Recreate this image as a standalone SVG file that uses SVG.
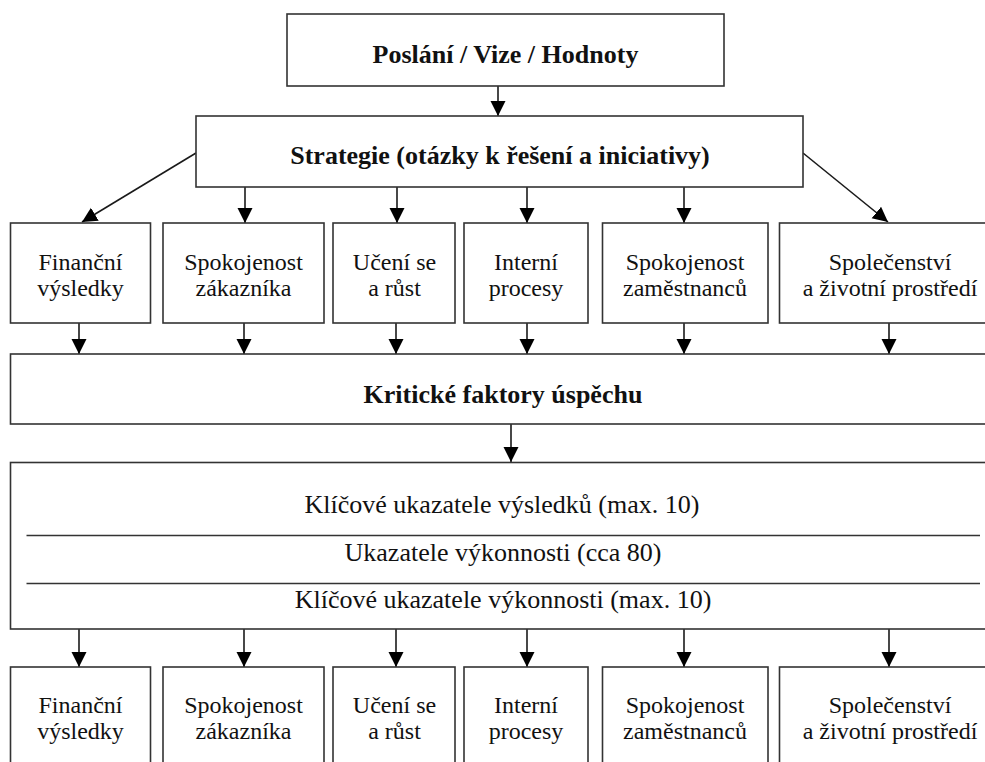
<svg xmlns="http://www.w3.org/2000/svg" width="985" height="762" viewBox="0 0 985 762">
  <style>
    .box { fill: #ffffff; stroke: #333333; stroke-width: 1.6; }
    .sep { stroke: #333333; stroke-width: 1.6; }
    .conn { stroke: #1a1a1a; stroke-width: 1.6; fill: none; marker-end: url(#arrow); }
    .t { font-family: "Liberation Serif", "Times New Roman", serif; fill: #111111; text-anchor: middle; }
    .b { font-size: 26px; font-weight: bold; }
    .m { font-size: 26px; }
    .s { font-size: 24px; }
  </style>
  <defs>
    <marker id="arrow" markerUnits="userSpaceOnUse" markerWidth="16" markerHeight="16" refX="15" refY="7.5" orient="auto">
      <path d="M0,0 L15,7.5 L0,15 Z" fill="#000000"/>
    </marker>
  </defs>

  <rect width="985" height="762" fill="#ffffff"/>

  <!-- connectors -->
  <g id="connectors">
    <line class="conn" x1="498" y1="86" x2="498" y2="116"/>
    <line class="conn" x1="196" y1="153" x2="82" y2="222"/>
    <line class="conn" x1="803" y1="153" x2="888" y2="222"/>
    <line class="conn" x1="245" y1="187" x2="245" y2="223"/>
    <line class="conn" x1="397" y1="187" x2="397" y2="223"/>
    <line class="conn" x1="527" y1="187" x2="527" y2="223"/>
    <line class="conn" x1="684" y1="187" x2="684" y2="223"/>

    <line class="conn" x1="79" y1="323" x2="79" y2="354"/>
    <line class="conn" x1="244" y1="323" x2="244" y2="354"/>
    <line class="conn" x1="396" y1="323" x2="396" y2="354"/>
    <line class="conn" x1="527" y1="323" x2="527" y2="354"/>
    <line class="conn" x1="684" y1="323" x2="684" y2="354"/>
    <line class="conn" x1="889" y1="323" x2="889" y2="354"/>

    <line class="conn" x1="511" y1="424" x2="511" y2="462"/>

    <line class="conn" x1="79" y1="629" x2="79" y2="667"/>
    <line class="conn" x1="244" y1="629" x2="244" y2="667"/>
    <line class="conn" x1="396" y1="629" x2="396" y2="667"/>
    <line class="conn" x1="527" y1="629" x2="527" y2="667"/>
    <line class="conn" x1="684" y1="629" x2="684" y2="667"/>
    <line class="conn" x1="889" y1="629" x2="889" y2="667"/>
  </g>

  <!-- mission / vision / values -->
  <g id="mission">
    <rect class="box" x="287" y="14" width="437" height="72"/>
    <text class="t b" x="505.5" y="63">Poslání / Vize / Hodnoty</text>
  </g>

  <!-- strategy -->
  <g id="strategy">
    <rect class="box" x="196" y="116" width="607" height="71"/>
    <text class="t b" x="500" y="164">Strategie (otázky k řešení a iniciativy)</text>
  </g>

  <!-- perspectives, upper row -->
  <g id="p1-financial">
    <rect class="box" x="10.5" y="223" width="140" height="100"/>
    <text class="t s" x="80.5" y="270">Finanční</text>
    <text class="t s" x="80.5" y="296">výsledky</text>
  </g>
  <g id="p1-customer">
    <rect class="box" x="163" y="223" width="161" height="100"/>
    <text class="t s" x="243.5" y="270">Spokojenost</text>
    <text class="t s" x="243.5" y="296">zákazníka</text>
  </g>
  <g id="p1-learning">
    <rect class="box" x="333" y="223" width="122" height="100"/>
    <text class="t s" x="394.5" y="270">Učení se</text>
    <text class="t s" x="394.5" y="296">a růst</text>
  </g>
  <g id="p1-process">
    <rect class="box" x="464" y="223" width="124" height="100"/>
    <text class="t s" x="526" y="270">Interní</text>
    <text class="t s" x="526" y="296">procesy</text>
  </g>
  <g id="p1-employees">
    <rect class="box" x="602.5" y="223" width="165.5" height="100"/>
    <text class="t s" x="685" y="270">Spokojenost</text>
    <text class="t s" x="685" y="296">zaměstnanců</text>
  </g>
  <g id="p1-society">
    <rect class="box" x="779.5" y="223" width="221" height="100"/>
    <text class="t s" x="890" y="270">Společenství</text>
    <text class="t s" x="890" y="296">a životní prostředí</text>
  </g>

  <!-- critical success factors -->
  <g id="csf">
    <rect class="box" x="10.5" y="354" width="986" height="70"/>
    <text class="t b" x="503" y="403">Kritické faktory úspěchu</text>
  </g>

  <!-- indicators -->
  <g id="indicators">
    <rect class="box" x="10.5" y="462.5" width="986" height="166.5"/>
    <line class="sep" x1="26.5" y1="535.5" x2="980" y2="535.5"/>
    <line class="sep" x1="26.5" y1="583.5" x2="980" y2="583.5"/>
    <text class="t m" x="502" y="513">Klíčové ukazatele výsledků (max. 10)</text>
    <text class="t m" x="503" y="561">Ukazatele výkonnosti (cca 80)</text>
    <text class="t m" x="503" y="608">Klíčové ukazatele výkonnosti (max. 10)</text>
  </g>

  <!-- perspectives, lower row -->
  <g id="p2-financial">
    <rect class="box" x="10.5" y="667" width="140" height="100"/>
    <text class="t s" x="80.5" y="713">Finanční</text>
    <text class="t s" x="80.5" y="739">výsledky</text>
  </g>
  <g id="p2-customer">
    <rect class="box" x="163" y="667" width="161" height="100"/>
    <text class="t s" x="243.5" y="713">Spokojenost</text>
    <text class="t s" x="243.5" y="739">zákazníka</text>
  </g>
  <g id="p2-learning">
    <rect class="box" x="333" y="667" width="122" height="100"/>
    <text class="t s" x="394.5" y="713">Učení se</text>
    <text class="t s" x="394.5" y="739">a růst</text>
  </g>
  <g id="p2-process">
    <rect class="box" x="464" y="667" width="124" height="100"/>
    <text class="t s" x="526" y="713">Interní</text>
    <text class="t s" x="526" y="739">procesy</text>
  </g>
  <g id="p2-employees">
    <rect class="box" x="602.5" y="667" width="165.5" height="100"/>
    <text class="t s" x="685" y="713">Spokojenost</text>
    <text class="t s" x="685" y="739">zaměstnanců</text>
  </g>
  <g id="p2-society">
    <rect class="box" x="779.5" y="667" width="221" height="100"/>
    <text class="t s" x="890" y="713">Společenství</text>
    <text class="t s" x="890" y="739">a životní prostředí</text>
  </g>
</svg>
